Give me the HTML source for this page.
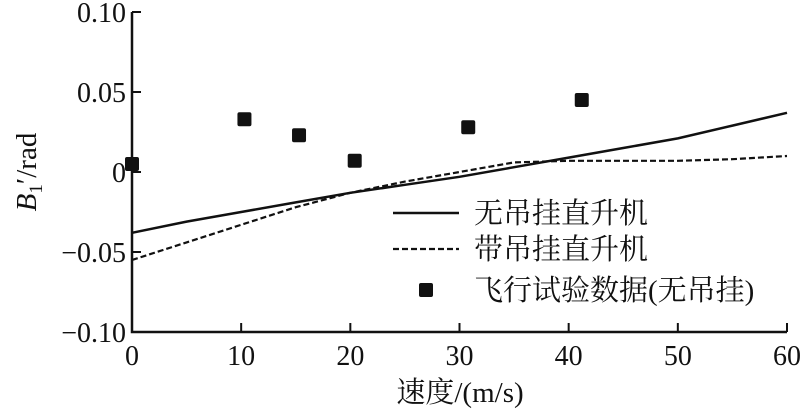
<!DOCTYPE html>
<html><head><meta charset="utf-8"><style>
html,body{margin:0;padding:0;background:#fff;width:800px;height:411px;overflow:hidden}
text{font-family:"Liberation Serif","Noto Serif CJK SC",serif;fill:#111}
</style></head><body>
<svg id="chart" width="800" height="411" viewBox="0 0 800 411" xmlns="http://www.w3.org/2000/svg"></svg>
<script>
const xTicks=[0,10,20,30,40,50,60];
const yTicks=[0.10,0.05,0,-0.05,-0.10];
const yTickLabels=["0.10","0.05","0","\u22120.05","\u22120.10"];
const solidX=[0,5,10,15,20,25,30,35,40,45,50,55,60];
const solidY=[-0.038,-0.031,-0.025,-0.019,-0.013,-0.008,-0.003,0.003,0.009,0.015,0.021,0.029,0.037];
const dashX=[0,5,10,15,20,25,30,35,40,45,50,55,60];
const dashY=[-0.055,-0.044,-0.033,-0.022,-0.013,-0.006,0.000,0.006,0.007,0.007,0.007,0.008,0.010];
const ptX=[0,10.3,15.3,20.4,30.8,41.2];
const ptY=[0.005,0.033,0.023,0.007,0.028,0.045];
const NS="http://www.w3.org/2000/svg";
const svg=document.getElementById('chart');
const X=v=>132+v*(787-132)/60;
const Y=v=>172-v*1600;
function mk(tag,attrs,parent){const e=document.createElementNS(NS,tag);for(const k in attrs)e.setAttribute(k,attrs[k]);(parent||svg).appendChild(e);return e;}
let e;
e=mk('path',{d:`M${X(0)},${Y(0.1)} V${Y(-0.1)} H${X(60)}`,stroke:'#111','stroke-width':2.5,fill:'none'});


yTicks.forEach((t,i)=>{
 e=mk('line',{x1:X(0),x2:X(0)+9,y1:Y(t),y2:Y(t),stroke:'#111','stroke-width':2});
 
 
 e=mk('text',{x:X(0)-6,y:Y(t)+10,'text-anchor':'end','font-size':28});e.textContent=yTickLabels[i];
 
 
});
xTicks.forEach(t=>{
 e=mk('line',{x1:X(t),x2:X(t),y1:Y(-0.1),y2:Y(-0.1)-9,stroke:'#111','stroke-width':2});
 
 
 e=mk('text',{x:X(t),y:365,'text-anchor':'middle','font-size':28});e.textContent=String(t);
 
 
});
e=mk('text',{x:460,y:402,'text-anchor':'middle','font-size':29});e.textContent='速度/(m/s)';


e=mk('text',{transform:'translate(36,172) rotate(-90)','text-anchor':'middle','font-size':29});
e.innerHTML='<tspan font-style="italic">B</tspan><tspan font-size="19" dy="6">1</tspan><tspan dy="-6">′/rad</tspan>';


e=mk('polyline',{points:solidX.map((x,i)=>X(x)+','+Y(solidY[i])).join(' '),stroke:'#111','stroke-width':2.5,fill:'none'});


e=mk('polyline',{points:dashX.map((x,i)=>X(x)+','+Y(dashY[i])).join(' '),stroke:'#111','stroke-width':2.2,'stroke-dasharray':'6,3',fill:'none'});


ptX.forEach((x,i)=>{
 e=mk('rect',{x:X(x)-7,y:Y(ptY[i])-7,width:14,height:14,rx:2,fill:'#111'});
 
 
});
e=mk('line',{x1:393,x2:459,y1:213,y2:213,stroke:'#111','stroke-width':2.5});


e=mk('line',{x1:393,x2:459,y1:249,y2:249,stroke:'#111','stroke-width':2.2,'stroke-dasharray':'6,3'});


e=mk('rect',{x:419,y:283,width:14,height:14,rx:2,fill:'#111'});


[['无吊挂直升机',223],['带吊挂直升机',259],['飞行试验数据(无吊挂)',300]].forEach(([s,y])=>{
 e=mk('text',{x:474,y:y,'font-size':29});e.textContent=s;
 
 
});
</script>
</body></html>
